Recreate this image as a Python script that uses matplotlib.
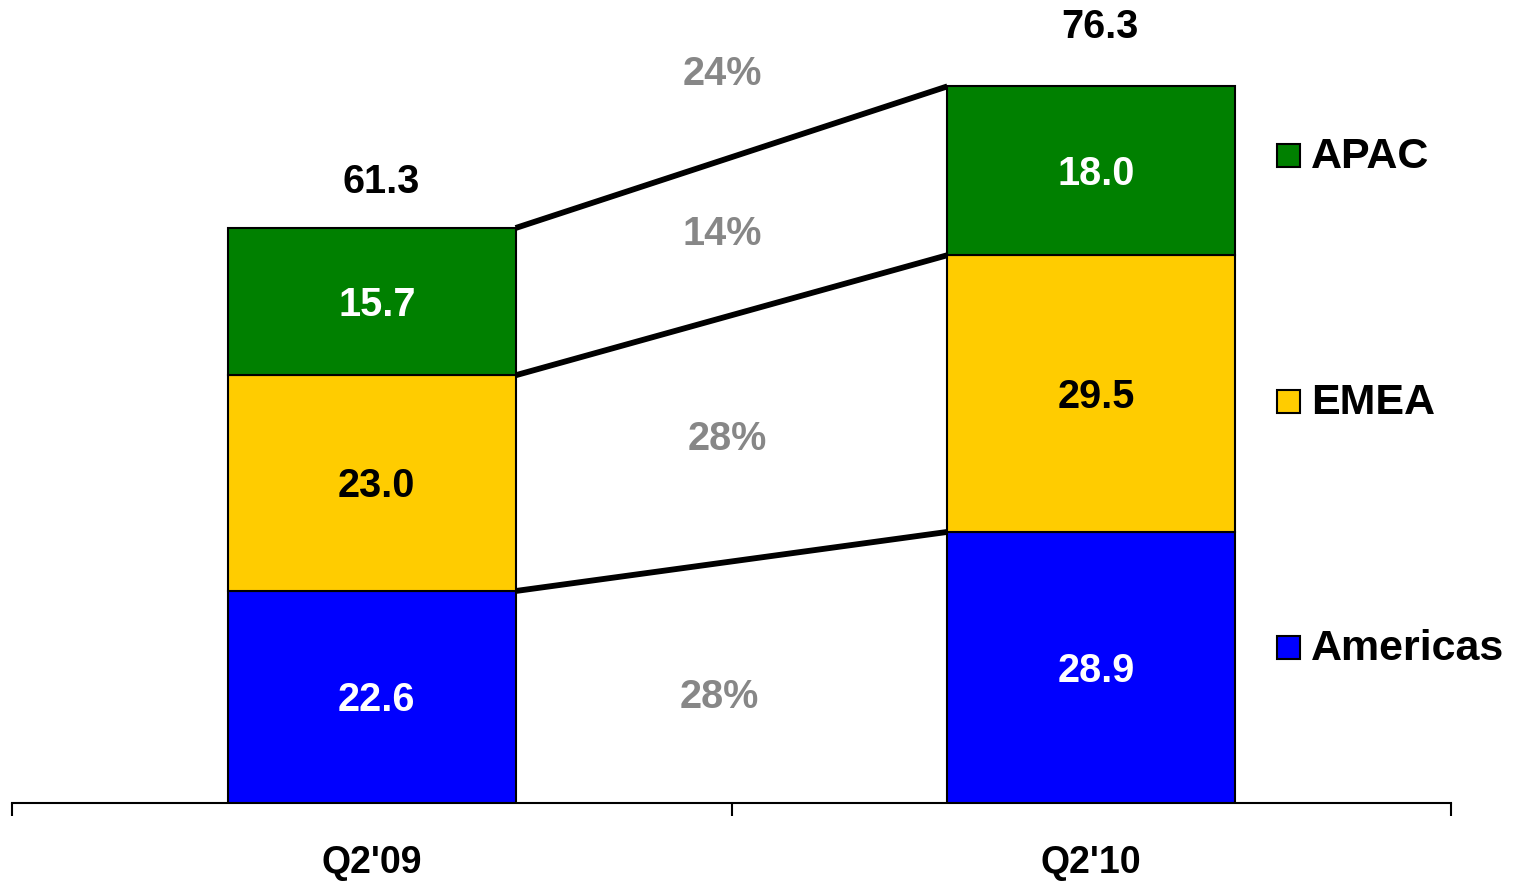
import matplotlib
matplotlib.use("Agg")
import matplotlib.pyplot as plt
from matplotlib.patches import Rectangle
import numpy as np

plt.rcParams['font.family'] = ['Liberation Sans', 'DejaVu Sans']
plt.rcParams['font.weight'] = 'bold'

quarters = ["Q2'09", "Q2'10"]
regions = ["Americas", "EMEA", "APAC"]
americas = [22.6, 28.9]
emea = [23.0, 29.5]
apac = [15.7, 18.0]
totals = [61.3, 76.3]
growth = ["28%", "28%", "14%", "24%"]   # Americas, EMEA, APAC, total

colors = ["#0000FF", "#FFCC00", "#008000"]
text_colors = ["white", "black", "white"]
gray = "#878787"

fig = plt.figure(figsize=(15.13, 8.82), dpi=100)
ax = fig.add_axes([12 / 1513, 79 / 882, 1439 / 1513, 803 / 882])

x = np.arange(len(quarters))
width = 0.4
bottom = np.zeros(len(quarters))
tops = []
for vals, c, tc in zip([americas, emea, apac], colors, text_colors):
    vals = np.asarray(vals)
    ax.bar(x, vals, width, bottom=bottom, color=c, edgecolor="black",
           linewidth=1.5, zorder=3)
    for xi, b, v in zip(x, bottom, vals):
        ax.text(xi + 0.007, b + v / 2 - 0.35, f"{v:.1f}", ha="center", va="center",
                color=tc, fontsize=28.5, fontweight="bold", zorder=4)
    bottom = bottom + vals
    tops.append(bottom.copy())

# connector lines between segment tops
for t in tops:
    ax.plot([x[0] + width / 2, x[1] - width / 2], [t[0], t[1]],
            color="black", linewidth=4.2, solid_capstyle="butt", zorder=2)

# totals above bars
total_gap = [46, 60]  # px above bar top
for xi, tot, gap in zip(x, totals, total_gap):
    ax.annotate(f"{tot:.1f}", (xi, tot), xytext=(9 * 0.72, gap * 0.72),
                textcoords="offset points", ha="center", va="center",
                fontsize=28.5, fontweight="bold", color="black")

# growth labels between bars
growth_pos = [(0.483, 11.3), (0.494, 38.8), (0.4875, 60.7), (0.4875, 77.7)]
for g, (gx, gy) in zip(growth, growth_pos):
    ax.text(gx, gy, g, ha="center", va="center", color=gray,
            fontsize=28.5, fontweight="bold")

ax.set_xlim(-0.5, 1.5)
ax.set_ylim(0, 803 / 9.38)
for s in ["top", "right", "left"]:
    ax.spines[s].set_visible(False)
ax.spines["bottom"].set_linewidth(1.5)
ax.set_yticks([])
ax.set_xticks(x)
ax.set_xticklabels(quarters)
ax.set_xticks([-0.5, 0.5, 1.5], minor=True)
ax.tick_params(axis="x", which="major", length=0, pad=30)
ax.tick_params(axis="x", which="minor", length=9.5, width=1.5, direction="out")
for lab in ax.get_xticklabels():
    lab.set_fontsize(27)
    lab.set_fontweight("bold")

# legend, placed manually on the right
leg_y = {"APAC": 155, "EMEA": 401, "Americas": 647}
for name, c in zip(regions, colors):
    yc = 882 - leg_y[name]
    fig.patches.append(Rectangle((1277 / 1513, (yc - 12) / 882), 23 / 1513, 23 / 882,
                                 transform=fig.transFigure, facecolor=c,
                                 edgecolor="black", linewidth=1.5))
    fig.text(1311 / 1513, (yc - 2) / 882, name, ha="left", va="center",
             fontsize=31, fontweight="bold", color="black")

fig.savefig("out.png", dpi=100)
